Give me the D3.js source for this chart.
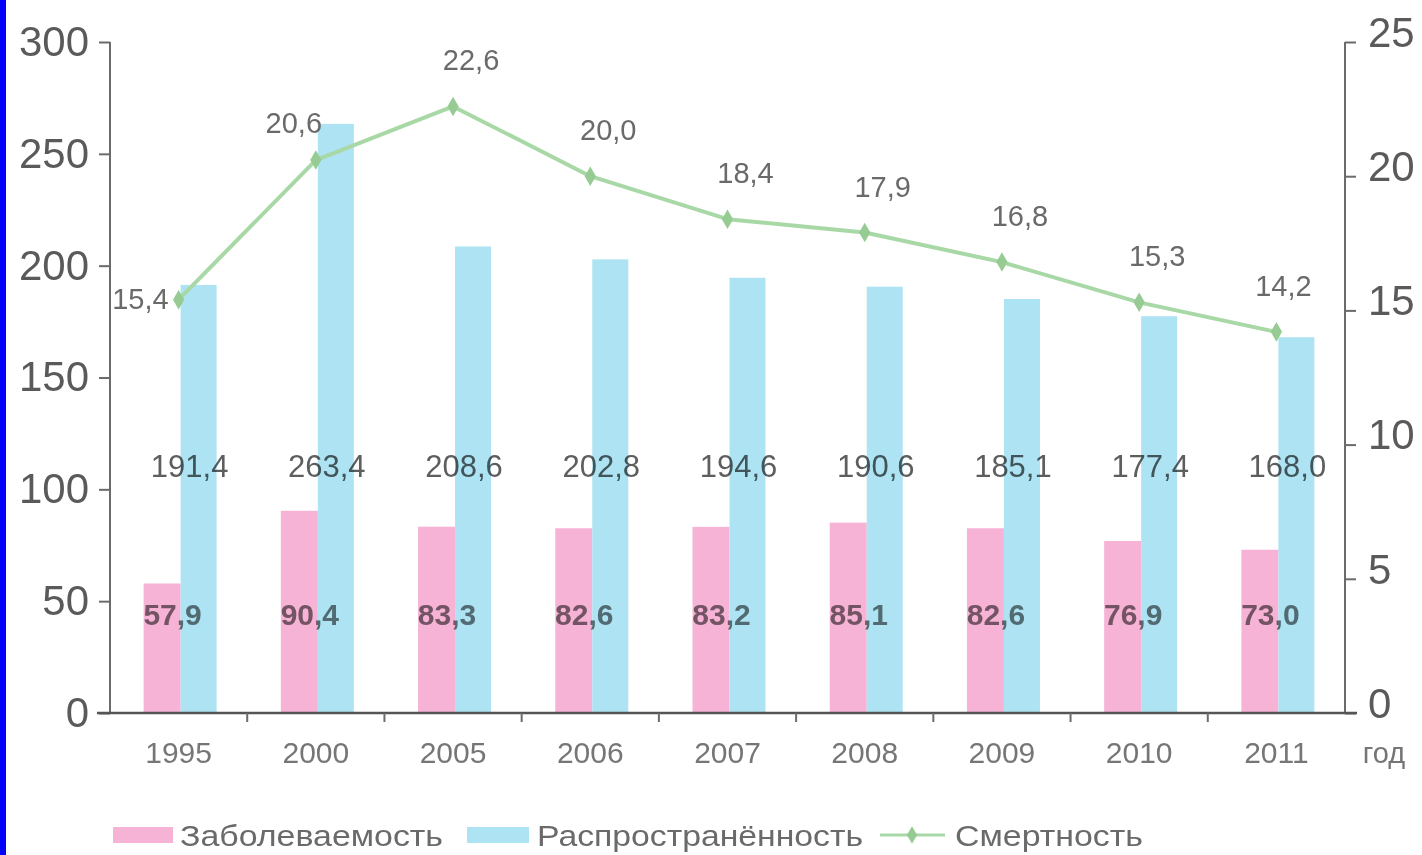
<!DOCTYPE html>
<html>
<head>
<meta charset="utf-8">
<script src="https://cdn.jsdelivr.net/npm/d3@7/dist/d3.min.js"></script>
<style>
  html, body { margin: 0; padding: 0; background: #fff; }
  svg { display: block; }
  text { font-family: "Liberation Sans", Arial, sans-serif; }
</style>
</head>
<body>
<svg id="chart" width="1422" height="855"></svg>
<script>
// Годы наблюдения
const years = ["1995", "2000", "2005", "2006", "2007", "2008", "2009", "2010", "2011"];
// Заболеваемость (левая ось)
const incidence = [57.9, 90.4, 83.3, 82.6, 83.2, 85.1, 82.6, 76.9, 73.0];
// Распространённость (левая ось)
const prevalence = [191.4, 263.4, 208.6, 202.8, 194.6, 190.6, 185.1, 177.4, 168.0];
// Смертность (правая ось)
const mortality = [15.4, 20.6, 22.6, 20.0, 18.4, 17.9, 16.8, 15.3, 14.2];
// Деления осей
const leftTicks = [0, 50, 100, 150, 200, 250, 300];
const rightTicks = [0, 5, 10, 15, 20, 25];
const seriesNames = ["Заболеваемость", "Распространённость", "Смертность"];

const fmt = v => d3.format(".1f")(v).replace(".", ",");

const W = 1422, H = 855;
const plotLeft = 110, plotRight = 1345, plotTop = 42, plotBottom = 713;
const cPink = "#f6b3d5", cBlue = "#ade3f2", cGreen = "#a8d8a6", cGreenDark = "#96cb94";
const axisColor = "#6b6b6b", textColor = "#5a5a5a";

const svg = d3.select("#chart");
svg.append("rect").attr("width", W).attr("height", H).attr("fill", "#fff");
svg.append("rect").attr("x", 0).attr("y", 0).attr("width", 6).attr("height", H).attr("fill", "#0000fb");

const x = d3.scaleBand().domain(years).range([plotLeft, plotRight]);
const yL = d3.scaleLinear().domain([0, 300]).range([plotBottom, plotTop]);
const yR = d3.scaleLinear().domain([0, 25]).range([plotBottom, plotTop]);

// Столбцы
const barW = 37;
const g = svg.append("g");
g.selectAll(".pink").data(years).join("rect")
  .attr("x", d => x(d) + x.bandwidth() / 2 - barW + 2)
  .attr("y", (d, i) => yL(incidence[i]))
  .attr("width", barW)
  .attr("height", (d, i) => yL(0) - yL(incidence[i]))
  .attr("fill", cPink);
g.selectAll(".blue").data(years).join("rect")
  .attr("x", d => x(d) + x.bandwidth() / 2 + 2)
  .attr("y", (d, i) => yL(prevalence[i]))
  .attr("width", barW - 1)
  .attr("height", (d, i) => yL(0) - yL(prevalence[i]))
  .attr("fill", cBlue);

// Левая ось
const axL = svg.append("g").attr("transform", `translate(${plotLeft},0)`)
  .call(d3.axisLeft(yL).tickValues(leftTicks).tickSize(11).tickPadding(10).tickFormat(d3.format("d")));
axL.select(".domain").remove();
axL.append("line").attr("x1", 0).attr("x2", 0).attr("y1", plotTop).attr("y2", plotBottom)
  .attr("stroke", axisColor).attr("stroke-width", 2);
axL.selectAll(".tick line").attr("stroke", axisColor).attr("stroke-width", 2);
axL.selectAll(".tick text").attr("fill", textColor).attr("font-size", 42)
  .attr("font-family", "Liberation Sans, Arial, sans-serif");

// Правая ось
const axR = svg.append("g").attr("transform", `translate(${plotRight},0)`)
  .call(d3.axisRight(yR).tickValues(rightTicks).tickSize(11).tickPadding(12).tickFormat(d3.format("d")));
axR.select(".domain").remove();
axR.append("line").attr("x1", 0).attr("x2", 0).attr("y1", plotTop).attr("y2", plotBottom)
  .attr("stroke", axisColor).attr("stroke-width", 2);
axR.selectAll(".tick line").attr("stroke", axisColor).attr("stroke-width", 2);
axR.selectAll(".tick text").attr("fill", textColor).attr("font-size", 42)
  .attr("font-family", "Liberation Sans, Arial, sans-serif").attr("dy", "0.1em");

// Горизонтальная ось
const axB = svg.append("g").attr("transform", `translate(0,${plotBottom})`)
  .call(d3.axisBottom(x).tickSize(0).tickPadding(38));
axB.select(".domain").remove();
axB.append("line").attr("x1", plotLeft - 13).attr("x2", plotRight + 12).attr("y1", 0).attr("y2", 0)
  .attr("stroke", "#555").attr("stroke-width", 2.5);
axB.selectAll(".sep").data(years.slice(1)).join("line")
  .attr("x1", d => x(d)).attr("x2", d => x(d)).attr("y1", 0).attr("y2", 9)
  .attr("stroke", axisColor).attr("stroke-width", 2);
axB.selectAll(".tick text").attr("fill", "#767676").attr("font-size", 30)
  .attr("font-family", "Liberation Sans, Arial, sans-serif").attr("dy", 0).attr("y", 50);
svg.append("text").attr("x", 1384).attr("y", 763).attr("text-anchor", "middle")
  .attr("fill", "#767676").attr("font-size", 29).text("год");

// Подписи значений столбцов
svg.selectAll(".lblBlue").data(years).join("text")
  .attr("x", d => x(d) + x.bandwidth() / 2 + 11)
  .attr("y", yL(105.5))
  .attr("text-anchor", "middle").attr("font-size", 31)
  .attr("fill", "#5e5e5e").style("mix-blend-mode", "multiply")
  .text((d, i) => fmt(prevalence[i]));
svg.selectAll(".lblPink").data(years).join("text")
  .attr("x", d => x(d) + x.bandwidth() / 2 - 6)
  .attr("y", yL(39.5))
  .attr("text-anchor", "middle").attr("font-size", 30).attr("font-weight", "bold")
  .attr("fill", "#787878").style("mix-blend-mode", "multiply")
  .text((d, i) => fmt(incidence[i]));

// Линия смертности
const cx = d => x(d) + x.bandwidth() / 2;
const line = d3.line().x(d => cx(d)).y((d, i) => yR(mortality[i]));
svg.append("path").datum(years).attr("d", line)
  .attr("fill", "none").attr("stroke", cGreen).attr("stroke-width", 4).attr("stroke-linejoin", "round");
svg.selectAll(".mk").data(years).join("path")
  .attr("d", d3.symbol(d3.symbolDiamond, 110))
  .attr("transform", (d, i) => `translate(${cx(d)},${yR(mortality[i])})`)
  .attr("fill", cGreenDark);

svg.selectAll(".lblLine").data(years).join("text")
  .attr("x", (d, i) => i === 0 ? cx(d) - 10 : cx(d) + (i === 1 ? -22 : i === years.length - 1 ? 7 : 18))
  .attr("y", (d, i) => yR(mortality[i]) + (i === 0 ? 9 : i === 1 ? -27 : -36))
  .attr("text-anchor", (d, i) => i === 0 ? "end" : "middle")
  .attr("font-size", 29).attr("fill", "#6a6a6a")
  .text((d, i) => fmt(mortality[i]));

// Легенда
const lg = svg.append("g");
lg.append("rect").attr("x", 113).attr("y", 827).attr("width", 60).attr("height", 16).attr("fill", cPink);
lg.append("text").attr("x", 180).attr("y", 846).attr("font-size", 30).attr("fill", "#6a6a6a")
  .attr("textLength", 263).attr("lengthAdjust", "spacingAndGlyphs").text(seriesNames[0]);
lg.append("rect").attr("x", 467).attr("y", 827).attr("width", 62).attr("height", 16).attr("fill", cBlue);
lg.append("text").attr("x", 537).attr("y", 846).attr("font-size", 30).attr("fill", "#6a6a6a")
  .attr("textLength", 326).attr("lengthAdjust", "spacingAndGlyphs").text(seriesNames[1]);
lg.append("line").attr("x1", 880).attr("x2", 945).attr("y1", 835).attr("y2", 835)
  .attr("stroke", cGreen).attr("stroke-width", 3);
lg.append("path").attr("d", d3.symbol(d3.symbolDiamond, 90)).attr("transform", "translate(912,835)")
  .attr("fill", cGreenDark);
lg.append("text").attr("x", 955).attr("y", 846).attr("font-size", 30).attr("fill", "#6a6a6a")
  .attr("textLength", 188).attr("lengthAdjust", "spacingAndGlyphs").text(seriesNames[2]);
</script>
</body>
</html>
